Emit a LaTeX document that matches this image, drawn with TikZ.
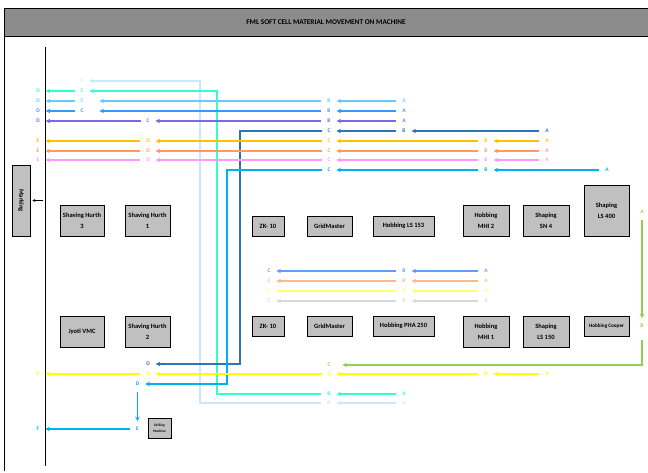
\documentclass[tikz,border=0pt]{standalone}
\usepackage{fontspec}
\setmainfont{Carlito}
\usetikzlibrary{positioning, arrows.meta}
\definecolor{BandGray}{RGB}{140,140,140}
\definecolor{BoxGray}{RGB}{192,192,192}
\definecolor{PaleBlue}{RGB}{204,232,255}
\definecolor{Turquoise}{RGB}{51,255,204}
\definecolor{SkyBlue}{RGB}{102,204,255}
\definecolor{MidBlue}{RGB}{51,153,255}
\definecolor{SlatePurple}{RGB}{123,104,238}
\definecolor{DeepBlue}{RGB}{46,117,182}
\definecolor{Gold}{RGB}{255,192,0}
\definecolor{Salmon}{RGB}{255,153,102}
\definecolor{Pink}{RGB}{255,153,255}
\definecolor{CyanBlue}{RGB}{0,176,240}
\definecolor{Cornflower}{RGB}{102,153,255}
\definecolor{Peach}{RGB}{255,185,140}
\definecolor{PaleYellow}{RGB}{255,255,120}
\definecolor{SoftGray}{RGB}{217,217,217}
\definecolor{LeafGreen}{RGB}{146,208,80}
\definecolor{Lemon}{RGB}{255,255,0}

\begin{document}
\begin{tikzpicture}[x=1pt, y=-1pt,
    machine/.style={rectangle, draw=black, line width=0.9pt, fill=BoxGray, align=center, inner sep=0pt,
    font=\bfseries\fontsize{6.5}{11}\selectfont},
    lbl/.style={inner sep=0pt, outer sep=6pt, font=\bfseries\fontsize{5.5}{5.5}\selectfont},
    flow/.style={line width=1.3pt, -{Stealth[length=4.5pt, width=4.5pt]}}
  ]
  \useasboundingbox (0,0) rectangle (648,472);
  \draw[fill=BandGray, line width=0.8pt] (4.5,8) rectangle (650,36);
  \node[font=\bfseries\fontsize{7.3}{8}\selectfont] (title) at (326,22) {FML SOFT CELL MATERIAL MOVEMENT ON MACHINE};
  \draw[line width=0.8pt] (4.5,36) -- (4.5,471);
  \draw[line width=0.8pt] (45,47) -- (45,466);

  \node[machine, minimum width=18pt, minimum height=71pt] (marking) at (21,200.5) {\rotatebox{-90}{Marking}};
  \node[machine, minimum width=44pt, minimum height=31pt] (hurth3) at (82,220.5) {Shaving Hurth\\3};
  \node[machine, minimum width=45pt, minimum height=31pt] (hurth1) at (147.5,220.5) {Shaving Hurth\\1};
  \node[machine, minimum width=32pt, minimum height=20pt] (zktop) at (268,226) {ZK- 10};
  \node[machine, minimum width=45pt, minimum height=20pt] (gmtop) at (329.5,226) {GridMaster};
  \node[machine, minimum width=61pt, minimum height=20pt] (ls153) at (403.5,226) {Hobbing LS 153};
  \node[machine, minimum width=46pt, minimum height=31pt] (mhi2) at (486,220.5) {Hobbing\\MHI 2};
  \node[machine, minimum width=46pt, minimum height=31pt] (sn4) at (546,220.5) {Shaping\\SN 4};
  \node[machine, minimum width=45pt, minimum height=51pt] (ls400) at (606.5,210.5) {Shaping\\LS 400};
  \node[machine, minimum width=44pt, minimum height=31pt] (jyoti) at (82,331.5) {Jyoti VMC};
  \node[machine, minimum width=45pt, minimum height=31pt] (hurth2) at (147.5,331.5) {Shaving Hurth\\2};
  \node[machine, minimum width=32pt, minimum height=20pt] (zkbot) at (268,326) {ZK- 10};
  \node[machine, minimum width=45pt, minimum height=20pt] (gmbot) at (329.5,326) {GridMaster};
  \node[machine, minimum width=61pt, minimum height=20pt] (pha250) at (403.5,326) {Hobbing PHA 250};
  \node[machine, minimum width=46pt, minimum height=31pt] (mhi1) at (486,331.5) {Hobbing\\MHI 1};
  \node[machine, minimum width=46pt, minimum height=31pt] (ls150) at (546,331.5) {Shaping\\LS 150};
  \node[machine, minimum width=45pt, minimum height=20pt, font=\bfseries\fontsize{5.2}{6}\selectfont] (cooper) at (606.5,326) {Hobbing Cooper};
  \node[machine, minimum width=23pt, minimum height=20pt, font=\bfseries\fontsize{3.5}{6}\selectfont] (drill) at (159.5,428) {Drilling\\Machine};

  \coordinate (mk) at (43,200.5);
  \draw[line width=0.6pt, -{Stealth[length=3pt, width=3pt]}, shorten >=2pt] (mk) -- (marking);

  \node[lbl, PaleBlue] (plC) at (82,81) {C};
  \node[lbl, PaleBlue] (plB) at (329,403) {B};
  \node[lbl, PaleBlue] (plA) at (404,403) {A};
  \coordinate (plturn) at (200,240);
  \draw[flow, PaleBlue] (plA) -- (plB);
  \draw[flow, PaleBlue] (plB) -| (plturn) |- (plC);

  \node[lbl, Turquoise] (tqD) at (38,91) {D};
  \node[lbl, Turquoise] (tqC) at (82,91) {C};
  \node[lbl, Turquoise] (tqB) at (329,394) {B};
  \node[lbl, Turquoise] (tqA) at (404,394) {A};
  \coordinate (tqturn) at (217,240);
  \draw[flow, Turquoise] (tqA) -- (tqB);
  \draw[flow, Turquoise] (tqB) -| (tqturn) |- (tqC);
  \draw[flow, Turquoise] (tqC) -- (tqD);

  \node[lbl, SkyBlue] (skD) at (38,101) {D};
  \node[lbl, SkyBlue] (skC) at (82,101) {C};
  \node[lbl, SkyBlue] (skB) at (329,101) {B};
  \node[lbl, SkyBlue] (skA) at (404,101) {A};
  \draw[flow, SkyBlue] (skA) -- (skB);
  \draw[flow, SkyBlue, shorten >=10pt] (skB) -- (skC);
  \draw[flow, SkyBlue] (skC) -- (skD);

  \node[lbl, MidBlue] (mbD) at (38,111) {D};
  \node[lbl, MidBlue] (mbC) at (82,111) {C};
  \node[lbl, MidBlue] (mbB) at (329,111) {B};
  \node[lbl, MidBlue] (mbA) at (404,111) {A};
  \draw[flow, MidBlue] (mbA) -- (mbB);
  \draw[flow, MidBlue, shorten >=10pt] (mbB) -- (mbC);
  \draw[flow, MidBlue] (mbC) -- (mbD);

  \node[lbl, SlatePurple] (puD) at (38,121) {D};
  \node[lbl, SlatePurple] (puC) at (148,121) {C};
  \node[lbl, SlatePurple] (puB) at (329,121) {B};
  \node[lbl, SlatePurple] (puA) at (404,121) {A};
  \draw[flow, SlatePurple] (puA) -- (puB);
  \draw[flow, SlatePurple] (puB) -- (puC);
  \draw[flow, SlatePurple] (puC) -- (puD);

  \node[lbl, DeepBlue] (dbA) at (547,131) {A};
  \node[lbl, DeepBlue] (dbB) at (404,131) {B};
  \node[lbl, DeepBlue] (dbC) at (329,131) {C};
  \node[lbl, DeepBlue] (dbD) at (148,364) {D};
  \coordinate (dbturn) at (240,240);
  \draw[flow, DeepBlue] (dbA) -- (dbB);
  \draw[flow, DeepBlue] (dbB) -- (dbC);
  \draw[flow, DeepBlue] (dbC) -| (dbturn) |- (dbD);

  \node[lbl, Gold] (goA) at (547,141) {A};
  \node[lbl, Gold] (goB) at (486,141) {B};
  \node[lbl, Gold] (goC) at (329,141) {C};
  \node[lbl, Gold] (goD) at (148,141) {D};
  \node[lbl, Gold] (goE) at (38,141) {E};
  \draw[flow, Gold] (goA) -- (goB);
  \draw[flow, Gold] (goB) -- (goC);
  \draw[flow, Gold] (goC) -- (goD);
  \draw[flow, Gold] (goD) -- (goE);

  \node[lbl, Salmon] (saA) at (547,151) {A};
  \node[lbl, Salmon] (saB) at (486,151) {B};
  \node[lbl, Salmon] (saC) at (329,151) {C};
  \node[lbl, Salmon] (saD) at (148,151) {D};
  \node[lbl, Salmon] (saE) at (38,151) {E};
  \draw[flow, Salmon] (saA) -- (saB);
  \draw[flow, Salmon] (saB) -- (saC);
  \draw[flow, Salmon] (saC) -- (saD);
  \draw[flow, Salmon] (saD) -- (saE);

  \node[lbl, Pink] (pkA) at (547,160) {A};
  \node[lbl, Pink] (pkB) at (486,160) {B};
  \node[lbl, Pink] (pkC) at (329,160) {C};
  \node[lbl, Pink] (pkD) at (148,160) {D};
  \node[lbl, Pink] (pkE) at (38,160) {E};
  \draw[flow, Pink] (pkA) -- (pkB);
  \draw[flow, Pink] (pkB) -- (pkC);
  \draw[flow, Pink] (pkC) -- (pkD);
  \draw[flow, Pink] (pkD) -- (pkE);

  \node[lbl, CyanBlue] (cyA) at (607,170) {A};
  \node[lbl, CyanBlue] (cyB) at (486,170) {B};
  \node[lbl, CyanBlue] (cyC) at (329,170) {C};
  \node[lbl, CyanBlue] (cyD) at (137.5,384) {D};
  \node[lbl, CyanBlue] (cyE) at (137.5,429) {E};
  \node[lbl, CyanBlue] (cyF) at (38,429) {F};
  \coordinate (cyturn) at (227,240);
  \draw[flow, CyanBlue] (cyA) -- (cyB);
  \draw[flow, CyanBlue] (cyB) -- (cyC);
  \draw[flow, CyanBlue] (cyC) -| (cyturn) |- (cyD);
  \draw[flow, CyanBlue] (cyD) -- (cyE);
  \draw[flow, CyanBlue] (cyE) -- (cyF);

  \node[lbl, Cornflower] (cfA) at (486,271) {A};
  \node[lbl, Cornflower] (cfB) at (404,271) {B};
  \node[lbl, Cornflower] (cfC) at (269,271) {C};
  \draw[flow, Cornflower] (cfA) -- (cfB);
  \draw[flow, Cornflower] (cfB) -- (cfC);

  \node[lbl, Peach] (peA) at (486,281) {A};
  \node[lbl, Peach] (peB) at (404,281) {B};
  \node[lbl, Peach] (peC) at (269,281) {C};
  \draw[flow, Peach] (peA) -- (peB);
  \draw[flow, Peach] (peB) -- (peC);

  \node[lbl, PaleYellow] (pyA) at (486,291) {A};
  \node[lbl, PaleYellow] (pyB) at (404,291) {B};
  \node[lbl, PaleYellow] (pyC) at (269,291) {C};
  \draw[flow, PaleYellow] (pyA) -- (pyB);
  \draw[flow, PaleYellow] (pyB) -- (pyC);

  \node[lbl, SoftGray] (sgA) at (486,301) {A};
  \node[lbl, SoftGray] (sgB) at (404,301) {B};
  \node[lbl, SoftGray] (sgC) at (269,301) {C};
  \draw[flow, SoftGray] (sgA) -- (sgB);
  \draw[flow, SoftGray] (sgB) -- (sgC);

  \node[lbl, LeafGreen] (grA) at (642,212) {A};
  \node[lbl, LeafGreen] (grB) at (642,326) {B};
  \node[lbl, LeafGreen] (grC) at (329,365) {C};
  \draw[flow, LeafGreen] (grA) -- (grB);
  \draw[flow, LeafGreen, shorten <=6pt, shorten >=6pt] (grB) |- (grC);

  \node[lbl, Lemon] (yeA) at (547,374) {A};
  \node[lbl, Lemon] (yeB) at (486,374) {B};
  \node[lbl, Lemon] (yeC) at (329,374) {C};
  \node[lbl, Lemon] (yeD) at (148,374) {D};
  \node[lbl, Lemon] (yeE) at (38,374) {E};
  \draw[flow, Lemon] (yeA) -- (yeB);
  \draw[flow, Lemon] (yeB) -- (yeC);
  \draw[flow, Lemon] (yeC) -- (yeD);
  \draw[flow, Lemon] (yeD) -- (yeE);
\end{tikzpicture}
\end{document}
